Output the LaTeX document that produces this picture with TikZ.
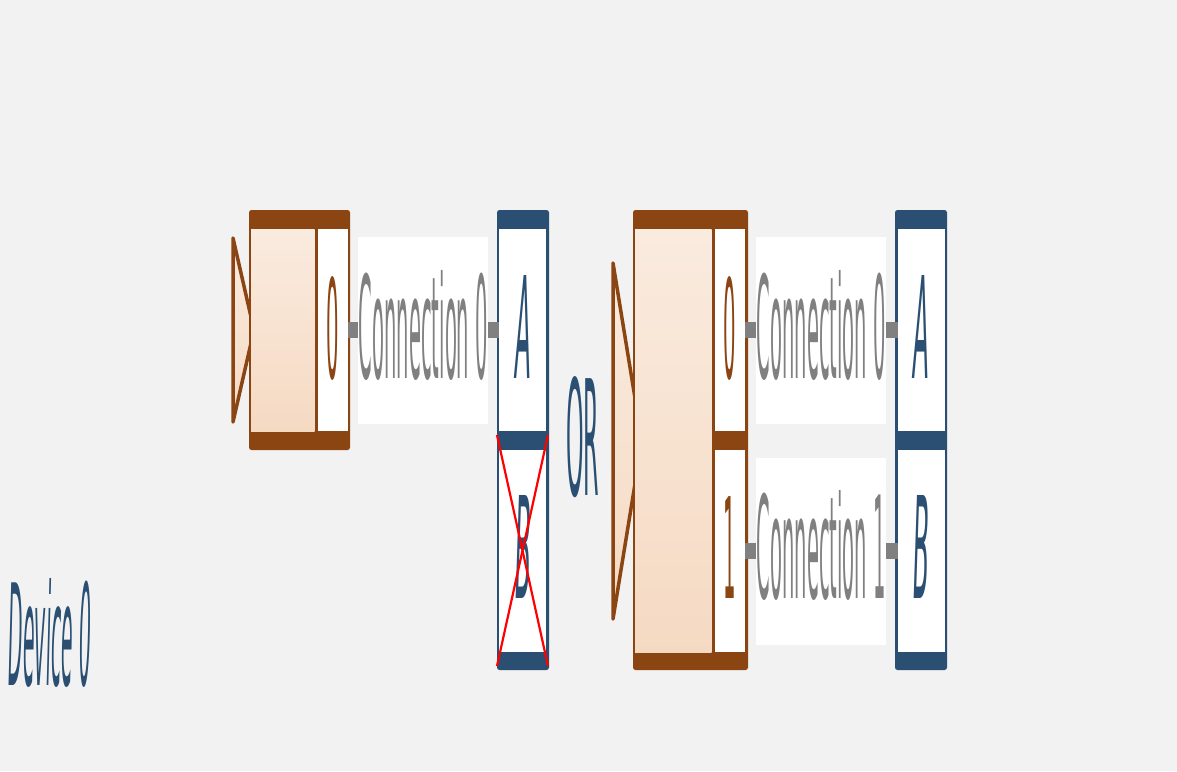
\documentclass[tikz,border=0pt]{standalone}
\usepackage{fontspec}
\setmainfont{DejaVu Sans}
\usetikzlibrary{calc}
\definecolor{bg}{HTML}{F2F2F2}
\definecolor{brn}{HTML}{8B4513}
\definecolor{blu}{HTML}{2A4F73}
\definecolor{gry}{HTML}{808080}
\definecolor{pkA}{HTML}{FAEBDF}
\definecolor{pkB}{HTML}{F5DAC3}
\newcommand{\rs}[3]{\resizebox{#1pt}{#2pt}{#3}}
\begin{document}
\begin{tikzpicture}[x=1pt,y=-1pt,
  txt/.style={inner sep=0pt, outer sep=0pt, anchor=base},
  cell/.style={fill=white, inner sep=0pt, outer sep=0pt, minimum width=#1, minimum height=202pt},
  cell/.default=30pt,
  stub/.style={draw=gry, line width=16pt},
  lblbox/.style={fill=white, inner sep=0pt, minimum width=130pt, minimum height=187pt},
  tri/.style={draw=brn, line width=3.5pt, line join=round, top color=pkA, bottom color=pkB},
  body/.style={top color=pkA, bottom color=pkB},
  cross/.style={draw=red, line width=2.2pt}]
\fill[bg] (0,0) rectangle (1177,771);
\useasboundingbox (0,0) rectangle (1177,771);

% ---------- left device ----------
\draw[tri] (233,238) -- (254,330) -- (233,422) -- cycle;
\fill[brn, rounded corners=2.5pt] (249,210) rectangle (350,450);
\shade[body] (251,229) rectangle (314.5,431);
\node[cell] (d0p0) at (332.7,330) {};
\node[txt, text=brn] (d0p0t) at (332.5,378) {\rs{12.5}{102}{0}};

% left blue port
\fill[blu, rounded corners=2.5pt] (497,210) rectangle (549,670);
\node[cell=47pt] (pA) at (522.7,330) {};
\node[cell=47pt] (pB) at (522.7,551) {};
\node[txt, text=blu] (pAt) at (523,378) {\rs{16}{103}{\itshape A}};
\node[txt, text=blu] (pBt) at (523,598) {\rs{16}{103}{\itshape B}};
\draw[cross] (497,435) -- (548,666);
\draw[cross] (548,435) -- (497,666);

\draw[stub] (d0p0.east) -- node[lblbox] (c0) {} (pA.west);
\node[txt, text=gry] (c0t) at (c0.center |- 0,378) {\rs{129}{108}{Connection 0}};

% OR
\node[txt, text=blu] (or) at (582.5,495) {\rs{33}{119}{OR}};

% ---------- right device ----------
\draw[tri] (613,263) -- (642,441) -- (613,619) -- cycle;
\fill[brn, rounded corners=2.5pt] (633,210) rectangle (748,670);
\shade[body] (635,229) rectangle (711.5,652);
\node[cell] (d1p0) at (730,330) {};
\node[cell] (d1p1) at (730,551) {};
\node[txt, text=brn] (d1p0t) at (730,378) {\rs{12.5}{102}{0}};
\node[txt, text=brn] (d1p1t) at (730,598) {\rs{12.5}{102}{1}};

\fill[blu, rounded corners=2.5pt] (895,210) rectangle (947,670);
\node[cell=47pt] (qA) at (921,330) {};
\node[cell=47pt] (qB) at (921,551) {};
\node[txt, text=blu] (qAt) at (921,378) {\rs{16}{103}{\itshape A}};
\node[txt, text=blu] (qBt) at (921,598) {\rs{16}{103}{\itshape B}};

\draw[stub] (d1p0.east) -- node[lblbox] (c1) {} (qA.west);
\draw[stub] (d1p1.east) -- node[lblbox] (c2) {} (qB.west);
\node[txt, text=gry] (c1t) at (c1.center |- 0,378) {\rs{129}{108}{Connection 0}};
\node[txt, text=gry] (c2t) at (c2.center |- 0,598) {\rs{129}{108}{Connection 1}};

% device label
\node[txt, text=blu] (dev) at (50,685) {\rs{82}{107}{\itshape Device 0}};
\end{tikzpicture}
\end{document}
